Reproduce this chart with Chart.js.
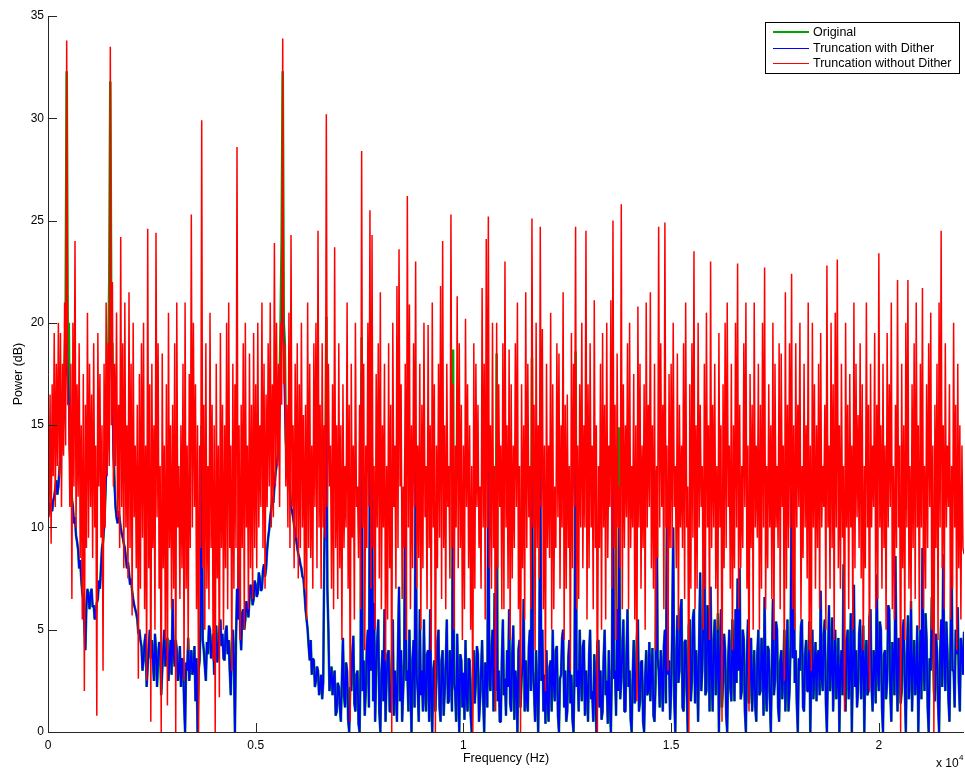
<!DOCTYPE html>
<html>
<head>
<meta charset="utf-8">
<title>Power spectrum</title>
<script src="https://cdn.jsdelivr.net/npm/chart.js@4/dist/chart.umd.min.js"></script>
<style>
  body { margin: 0; background: #fff; }
  #wrap { width: 965px; height: 768px; }
</style>
</head>
<body>
<div id="wrap"><canvas id="spectrumChart" width="965" height="768"></canvas></div>
<script>
// spectrum bins are 25 Hz apart, 0 .. 22050 Hz
const binHz = 25;
const seriesNames = ["Original", "Truncation with Dither", "Truncation without Dither"];
const xTickValues = [0, 5000, 10000, 15000, 20000];
const xTickLabels = ["0", "0.5", "1", "1.5", "2"];
const yTickValues = [0, 5, 10, 15, 20, 25, 30, 35];

const original = [
  11,10.6, 11.2,10.9, 10.8,11.3, 11.5,11.9, 12.3,11.6, 12,12.8, 13.4,13.9, 14.5,15.3, 18,20, 32.3,19,
  20,13.8, 12.5,11.4, 11,10.2, 10.5,9.6, 9.3,8.9, 8,8.4, 7.5,6.8, 6.5,5.2, 4,6.2, 7,6.6,
  6,6.8, 7,6.1, 6.2,5.5, 5.8,6.3, 6.5,7.4, 7,8, 9,9.3, 10,11.2, 13,14, 18,22,
  31.8,19, 19,14, 12.5,11, 10.5,10.2, 10.8,10.4, 10,9.7, 9.5,9.2, 9,8.5, 8,8.3, 7.8,7.2,
  7.5,6.9, 6.5,6.2, 6,5.8, 5.5,4.8, 5,4.5, 4.2,3, 3.5,4.4, 4.8,2.2, 3.2,4.1, 5,3.6,
  4.5,3.5, 2.5,4.8, 4,2.2, 3.5,4.4, 4.2,1.8, 3,4, 5,3.2, 3.8,4.6, 2.5,3.6, 4.5,2.8,
  6.5,3.8, 3.2,4.5, 4,2.5, 3,4.2, 2.2,3.6, 3.5,1.5, 0,3.4, 3,4.6, 2.5,3.2, 4,2.8,
  3,4.2, 1.5,3.6, 0,3, 3.5,5.5, 15,4.5, 4,3.2, 2.5,4.4, 3.8,5.2, 5,3.6, 4,4.8,
  2.8,4.6, 5.2,3.4, 4,5, 5.5,4.2, 4.8,3.6, 3.5,4.9, 5.2,3.8, 4.5,3, 1.8,4.4, 5,3.5,
  0,4.5, 7,5.5, 12.3,5, 4,5.8, 6,5, 5.5,6.4, 6,5.6, 6.5,7.2, 7,6.2, 6.5,7.4,
  7.2,6.6, 6.8,7.8, 7.5,6.9, 7,7.9, 8.2,7.6, 8,8.9, 9.5,9.9, 10.5,10.9, 11.5,11.2, 12,12.6,
  13,13.4, 14.5,17, 20,24, 32.3,20, 19,14.2, 13.5,12.8, 12.5,11.8, 11,10.8, 10.5,10.1, 9.8,9.4,
  9,8.7, 8.5,8.2, 8,7.6, 7.5,6.8, 6,5.5, 5,4.2, 3.5,4.5, 2.8,3.6, 3.5,2.2, 2.5,3.2,
  3,1.8, 2.2,2.8, 1.6,2.4, 8.5,12, 20.3,7, 5,2, 2.5,3.2, 1.8,2.6, 3,0.8, 1,2.4,
  2.2,1.2, 0.5,2.6, 4.6,1.8, 1.2,3.4, 3,0.6, 0,2.2, 2,3.8, 4.7,1.4, 1,2.8, 3,0.4,
  0,3.2, 19.3,2, 3.5,0.8, 2,4.2, 5,1.2, 14.8,3, 13.4,1.5, 6.3,0.5, 3,4.5, 5.5,1,
  0,2.8, 4,1.5, 6,0.5, 2.5,3.8, 4,1, 1,3.5, 5.5,0.8, 3,2, 0.5,4.2, 7.1,1.5,
  4,0.5, 2,3.6, 13.5,2.5, 3,1, 5,2.2, 0,3.5, 4.5,1.2, 13.7,2.8, 2,0.5, 6,1.8,
  3,1, 5.5,2, 1,3.8, 4,0.5, 6,1.6, 0,3, 3.5,1, 2.5,4.4, 5,1.2, 0.5,3.5,
  4,0.8, 2,3.4, 5.5,1.4, 1.5,4, 3,1, 18.7,2.4, 2,0.5, 4.8,2.2, 0,3.8, 3.5,1.2,
  2.9,0.6, 4.5,1.8, 1,3.6, 3.5,0.8, 0,2.6, 4,1.4, 2.5,4.2, 3.8,0.5, 1.5,3, 4.5,1.6,
  0,3.4, 3,1.2, 13.5,2.6, 2,4, 5,1, 6.8,2, 18.5,1.5, 3,0.5, 0.5,3.6, 5.5,1.8,
  2.6,0.8, 4,2.2, 6,1.4, 1,3.8, 5.2,0.6, 3,2.4, 0,4, 4.5,1.2, 2.6,3.2, 6.5,1,
  3.5,1.6, 1,4.2, 5,2, 18.3,3, 2,0.5, 4,1.8, 0,3.4, 13.5,2.5, 5,1, 2.8,0.4,
  4,1.5, 0.5,3.2, 3.5,1, 5,2.4, 1.5,4, 4.2,0.8, 0,2.6, 2.8,4.6, 5,1.2, 3,0.5,
  1,3.6, 4.5,1.4, 2.8,0.6, 0,3, 18.6,2.2, 3,1, 5,2.8, 1.5,4.2, 4.5,0.8, 3,2,
  0.5,3.8, 5,1.6, 2,0.5, 3.8,2.2, 0,4.4, 4.5,1.2, 3,0.6, 1,3.6, 5,1.8, 2.5,0.4,
  4,1.4, 0,3.2, 13.5,2.6, 3,0.8, 6,2, 14.9,1.6, 2.5,4, 5.5,1, 1,3.8, 6,2.2,
  3,0.6, 0,2.8, 4.5,1.4, 2,4.6, 5.5,1, 1.5,3.4, 3.5,0.5, 0,2.6, 4,1.8, 2,4.4,
  1.5,3, 4.1,0.8, 0.5,2.4, 12.8,3.6, 3,1.2, 4,2.6, 1,4.2, 5,1.4, 11.9,2.8, 3.5,0.6,
  2,4.8, 10,1.6, 0,3.6, 5.7,2.4, 3,6, 6.5,1.2, 1,4.4, 4.5,2, 0,5.2, 5.5,1.5,
  2.5,5.6, 6,1.4, 4,2.8, 0.5,4.6, 7.8,2, 3,5.4, 12.3,1.8, 2,6.2, 5,1, 7.1,3,
  1,4.4, 5.5,1.8, 3,5.8, 0,3.4, 6,1.2, 2.5,4.8, 4,0.8, 0,3.6, 5,2.2, 1.5,5.5,
  3.5,1.5, 6,2.4, 7.5,3, 8,1.6, 2,5, 4.5,1, 0,3.8, 5.5,1.4, 3,4.6, 1,2.6,
  4,1.2, 0.5,3.8, 5,1.8, 2,4.6, 3.5,0.8, 6.6,2.2, 1,4.2, 4,1.6, 0,3.2, 6.5,1.8,
  2.5,5.4, 5,1.2, 0.5,3.4, 4,1.6, 3,5, 1,3.2, 5.5,1, 2,4.2, 11.9,3.6, 11,2.4,
  4,1.4, 0,3.6, 3,5.2, 5.5,1.2, 1,3.8, 4.5,2, 2,5.4, 0,3, 5,1.6, 3,4.4,
  1.5,3.8, 4,1.8, 6.9,2.6, 2,4.8, 5.5,1.4, 0,3.2, 6.2,2, 3,5.6, 1,3.4, 5,1.6,
  2.5,4.6, 0,3, 4,1.8, 8.2,2.4, 1,4.4, 5,1.6, 3,5.8, 0,3.2, 7.2,2.2, 4,1.2,
  2,4.8, 5.5,1.6, 3.3,5.2, 0,3.4, 4.5,1.8, 2,5.6, 6,2.2, 1,4, 3.5,1.4, 7.7,3,
  2,5.4, 5,1.2, 0,3.8, 4,1.6, 2.5,6.2, 6,2, 0.5,4.4, 3.5,1.8, 8.6,3.4, 1,4.6,
  4,1.4, 2,5, 5.5,2.2, 0,3.6, 5.7,1.6, 3,6.4, 1,3.2, 4.5,1.8, 2.5,5.2, 0,2.8,
  5,1.6, 9,3.4, 2,5.8, 4.5,1.2, 0,3.6, 3,6.6, 6,2, 1.5,4.8, 4,1.4, 0,3.8,
  5.5,2.2, 8.7,3.6, 2,5.4, 4,1.6, 0.5,4.2, 8.7,3, 3,1.2, 5,3.8, 6.1,2.4, 1,4.6,
  4,2.8, 4.9
];

const withDither = [
  11,10.6, 11.2,10.9, 10.8,11.3, 11.5,11.9, 12.3,11.6, 12,12.8, 13.4,13.9, 14.5,15.3, 16,17.2, 19,17.5,
  16,13.8, 12.5,11.4, 11,10.2, 10.5,9.6, 9.3,8.9, 8,8.4, 7.5,6.8, 6.5,5.2, 4,6.2, 7,6.6,
  6,6.8, 7,6.1, 6.2,5.5, 5.8,6.3, 6.5,7.4, 7,8, 9,9.3, 10,11.2, 12.5,13.6, 15,17.5,
  21,18, 16,13.5, 12,11, 10.5,10.2, 10.8,10.4, 10,9.7, 9.5,9.2, 9,8.5, 8,8.3, 7.8,7.2,
  7.5,6.9, 6.5,6.2, 6,5.8, 5.5,4.8, 5,4.5, 4.2,3, 3.5,4.4, 4.8,2.2, 3.2,4.1, 5,3.6,
  4.5,3.5, 2.5,4.8, 4,2.2, 3.5,4.4, 4.2,1.8, 3,4, 5,3.2, 3.8,4.6, 2.5,3.6, 4.5,2.8,
  6.5,3.8, 3.2,4.5, 4,2.5, 3,4.2, 2.2,3.6, 3.5,1.5, 0,3.4, 3,4.6, 2.5,3.2, 4,2.8,
  3,4.2, 1.5,3.6, 0,3, 3.5,5.5, 15,4.5, 4,3.2, 2.5,4.4, 3.8,5.2, 5,3.6, 4,4.8,
  2.8,4.6, 5.2,3.4, 4,5, 5.5,4.2, 4.8,3.6, 3.5,4.9, 5.2,3.8, 4.5,3, 1.8,4.4, 5,3.5,
  0,4.5, 7,5.5, 12.3,5, 4,5.8, 6,5, 5.5,6.4, 6,5.6, 6.5,7.2, 7,6.2, 6.5,7.4,
  7.2,6.6, 6.8,7.8, 7.5,6.9, 7,7.9, 8.2,7.6, 8,8.9, 9.5,9.9, 10.5,10.9, 11.5,11.2, 12,12.6,
  13,13.4, 14,15.5, 17.5,19.5, 22,18.5, 16,14.2, 13,12.8, 12.5,11.8, 11,10.8, 10.5,10.1, 9.8,9.4,
  9,8.7, 8.5,8.2, 8,7.6, 7.5,6.8, 6,5.5, 5,4.2, 3.5,4.5, 2.8,3.6, 3.5,2.2, 2.5,3.2,
  3,1.8, 2.2,2.8, 1.6,2.4, 8.5,12, 15.9,7, 5,2, 2.5,3.2, 1.8,2.6, 3,0.8, 1,2.4,
  2.2,1.2, 0.5,2.6, 4.6,1.8, 1.2,3.4, 3,0.6, 0,2.2, 2,3.8, 4.7,1.4, 1,2.8, 3,0.4,
  0,3.2, 17.6,2, 3.5,0.8, 2,4.2, 5,1.2, 14.8,3, 13.4,1.5, 6.3,0.5, 3,4.5, 5.5,1,
  0,2.8, 4,1.5, 6,0.5, 2.5,3.8, 4,1, 1,3.5, 5.5,0.8, 3,2, 0.5,4.2, 7.1,1.5,
  4,0.5, 2,3.6, 13.5,2.5, 3,1, 5,2.2, 0,3.5, 4.5,1.2, 13.7,2.8, 2,0.5, 6,1.8,
  3,1, 5.5,2, 1,3.8, 4,0.5, 6,1.6, 0,3, 3.5,1, 2.5,4.4, 5,1.2, 0.5,3.5,
  4,0.8, 2,3.4, 5.5,1.4, 1.5,4, 3,1, 12.7,2.4, 2,0.5, 4.8,2.2, 0,3.8, 3.5,1.2,
  2.9,0.6, 4.5,1.8, 1,3.6, 3.5,0.8, 0,2.6, 4,1.4, 2.5,4.2, 3.8,0.5, 1.5,3, 4.5,1.6,
  0,3.4, 3,1.2, 13.5,2.6, 2,4, 5,1, 6.8,2, 9,1.5, 3,0.5, 0.5,3.6, 5.5,1.8,
  2.6,0.8, 4,2.2, 6,1.4, 1,3.8, 5.2,0.6, 3,2.4, 0,4, 4.5,1.2, 2.6,3.2, 6.5,1,
  3.5,1.6, 1,4.2, 5,2, 12.5,3, 2,0.5, 4,1.8, 0,3.4, 13.5,2.5, 5,1, 2.8,0.4,
  4,1.5, 0.5,3.2, 3.5,1, 5,2.4, 1.5,4, 4.2,0.8, 0,2.6, 2.8,4.6, 5,1.2, 3,0.5,
  1,3.6, 4.5,1.4, 2.8,0.6, 0,3, 14,2.2, 3,1, 5,2.8, 1.5,4.2, 4.5,0.8, 3,2,
  0.5,3.8, 5,1.6, 2,0.5, 3.8,2.2, 0,4.4, 4.5,1.2, 3,0.6, 1,3.6, 5,1.8, 2.5,0.4,
  4,1.4, 0,3.2, 13.5,2.6, 3,0.8, 6,2, 10,1.6, 2.5,4, 5.5,1, 1,3.8, 6,2.2,
  3,0.6, 0,2.8, 4.5,1.4, 2,4.6, 5.5,1, 1.5,3.4, 3.5,0.5, 0,2.6, 4,1.8, 2,4.4,
  1.5,3, 4.1,0.8, 0.5,2.4, 12.8,3.6, 3,1.2, 4,2.6, 1,4.2, 5,1.4, 11.9,2.8, 3.5,0.6,
  2,4.8, 10,1.6, 0,3.6, 5.7,2.4, 3,6, 6.5,1.2, 1,4.4, 4.5,2, 0,5.2, 5.5,1.5,
  2.5,5.6, 6,1.4, 4,2.8, 0.5,4.6, 7.8,2, 3,5.4, 10,1.8, 2,6.2, 5,1, 7.1,3,
  1,4.4, 5.5,1.8, 3,5.8, 0,3.4, 6,1.2, 2.5,4.8, 4,0.8, 0,3.6, 5,2.2, 1.5,5.5,
  3.5,1.5, 6,2.4, 7.5,3, 8,1.6, 2,5, 4.5,1, 0,3.8, 5.5,1.4, 3,4.6, 1,2.6,
  4,1.2, 0.5,3.8, 5,1.8, 2,4.6, 3.5,0.8, 6.6,2.2, 1,4.2, 4,1.6, 0,3.2, 6.5,1.8,
  2.5,5.4, 5,1.2, 0.5,3.4, 4,1.6, 3,5, 1,3.2, 5.5,1, 2,4.2, 11.9,3.6, 11,2.4,
  4,1.4, 0,3.6, 3,5.2, 5.5,1.2, 1,3.8, 4.5,2, 2,5.4, 0,3, 5,1.6, 3,4.4,
  1.5,3.8, 4,1.8, 6.9,2.6, 2,4.8, 5.5,1.4, 0,3.2, 6.2,2, 3,5.6, 1,3.4, 5,1.6,
  2.5,4.6, 0,3, 4,1.8, 8.2,2.4, 1,4.4, 5,1.6, 3,5.8, 0,3.2, 7.2,2.2, 4,1.2,
  2,4.8, 5.5,1.6, 3.3,5.2, 0,3.4, 4.5,1.8, 2,5.6, 6,2.2, 1,4, 3.5,1.4, 7.7,3,
  2,5.4, 5,1.2, 0,3.8, 4,1.6, 2.5,6.2, 6,2, 0.5,4.4, 3.5,1.8, 8.6,3.4, 1,4.6,
  4,1.4, 2,5, 5.5,2.2, 0,3.6, 5.7,1.6, 3,6.4, 1,3.2, 4.5,1.8, 2.5,5.2, 0,2.8,
  5,1.6, 9,3.4, 2,5.8, 4.5,1.2, 0,3.6, 3,6.6, 6,2, 1.5,4.8, 4,1.4, 0,3.8,
  5.5,2.2, 8.7,3.6, 2,5.4, 4,1.6, 0.5,4.2, 8.7,3, 3,1.2, 5,3.8, 6.1,2.4, 1,4.6,
  4,2.8, 4.9
];

const withoutDither = [
  15.5,10.5, 16.5,9.2, 17,12.5, 19.5,11, 18,13, 20,12.5, 19.5,11, 18,13.5, 21,14, 33.8,16,
  16,11, 18,6.5, 20,12, 24,10, 17,11.5, 19,8.5, 15,5.5, 17.5,2, 16,9, 20.5,9.5,
  18,11, 16.5,8.5, 19,10, 14,0.8, 19.5,12, 17.5,9.5, 15,3, 18,10, 21,12.5, 19,13,
  33.5,15, 22,12, 18,13, 20.5,10.5, 16,9, 24.2,11, 19,8, 21,10, 15,7.5, 21.5,9,
  18,5.7, 20,10.5, 14,8, 16,2.6, 17.5,7, 19,9.5, 20,6, 14,2.5, 24.6,8, 17,0.5,
  18,9, 15,5, 24.4,10.5, 19,7, 13,0, 18.5,8, 14,4.5, 17,1.3, 20.5,9, 15,6,
  16,7, 19,0, 21,10, 13,6.5, 15,8, 18,2.5, 21,7, 14,4, 17.5,9, 25.3,10,
  20,11, 17,6, 15,0, 14,9, 29.9,8, 16,5, 19,7, 13,6, 20.5,9, 16,3.5,
  15,0, 18,7.5, 14,1.7, 19.5,9, 16,5, 15,8, 20,6, 21,9, 14,3, 18,7,
  17,9, 28.6,7, 15,4.5, 16,9, 19,5, 20,10, 14,6, 18.5,8, 16,6.5, 19.5,9,
  17,8, 20,10, 15,11, 21,9, 18,7, 16.5,11, 19,12, 21,10, 17,10.5, 23.9,12,
  20,13, 18,11, 20,16, 33.9,17, 19,12, 16,10, 20.5,9, 24.3,11, 15,8, 18,9.5,
  19,7.5, 17,9, 20,10, 15.5,7, 16,5.5, 21,9, 18,8.5, 14,7, 19,11, 20,8,
  24.5,10, 16,7, 19,10, 15,9.5, 30.2,11, 18,12, 14,7, 17,6, 23.7,9, 15,6.5,
  19,8, 15,4.5, 17,9, 13,10, 21,7, 16,0.5, 18,9.5, 14,5.5, 20,11, 12,8.5,
  16,6, 28.4,10, 18,4, 14,9, 20,11, 25.5,7, 24.3,9, 13,5, 17.5,10, 19,7.5,
  21.5,6, 15,10, 18,3.5, 13,5.5, 19,8, 16,0, 20,11, 14,7, 21.8,9, 23.6,12,
  17,6.5, 12,9, 18,4.5, 26.2,10, 20.9,6, 15,8, 19,11, 23,7, 14,8.5, 18,5,
  16,8, 20,10.5, 13,6, 19.9,9, 15,4, 21,10, 17,0, 14,8, 18,9.5, 21.8,6.5,
  24,9, 15,6, 18,11, 13,7.5, 25.3,9, 17,5, 14,10, 21.3,8, 19,9, 16,4.5,
  14,6, 20.2,11, 17,8, 15,5, 13,0, 19,7, 18,11, 16,9, 12,7, 21.7,10,
  18,5.5, 24.1,10, 25.2,8, 15,7, 20,9, 13,1, 20,8, 17,11, 14,6, 19,6,
  23,10, 15,7, 18.7,4.5, 17,7.5, 14,9, 19,11, 21,6, 13,0, 17,8, 15,5.5,
  21.5,9, 18,10.5, 13,6, 25.1,10, 16,4, 20,9, 15,7.5, 24.7,11, 19.7,6, 14,2,
  18,9, 14,8.5, 20.5,5, 17,6, 12,9, 19,10.5, 18.5,7, 15,10, 21.5,4.5, 16,7,
  16.5,9, 13,3, 19.5,8, 18,11, 24.7,6, 14,6.5, 17,10, 20,8, 15,10, 24.5,5.5,
  17,8, 19,10, 14,6, 21.1,9, 15,0, 13,9, 18,5, 19.5,10, 16,5.5, 20,8.5,
  14,11, 21.1,7, 25,9, 16,4.5, 18.5,10, 12,8, 25.8,6, 17,9, 15,10.5, 19,6,
  20,9, 13,10, 17.5,5.5, 15,1.5, 20.8,10, 18,7, 14,9, 17,5, 21,10, 16,11,
  21.5,8, 15,7, 18,4, 13,8.5, 24.7,10, 19,11, 16,6, 24.9,10, 14,3, 17.5,9,
  18,9, 20,11, 13,8, 18.5,5, 16,10, 14,9, 19,6.5, 21,10, 12,0, 17,7,
  19,9.5, 23.5,6, 15,7, 20,10, 16,11, 13,5, 18,7, 20.5,10, 15,4.5, 23,9,
  16,10, 18,7, 13,5, 19.5,10, 15,0.5, 17,8, 20,9, 21,11, 14,7, 18,4,
  15,8, 20,10, 22.9,6, 16,8, 13,9, 19,11, 21,7, 14,1, 17.5,9, 16,5,
  21,10, 14,9.5, 18,5, 16,7, 20,10, 22.7,6, 13,8, 17,10, 15,6.5, 20,4.5,
  18,10, 13,9, 19,6, 18.5,11, 14,2.5, 21.5,7, 16,9, 19,10, 22.4,6, 15,5,
  19,10, 16,11, 20,5.5, 13,8.5, 18,10, 15,7.5, 21,4, 14,3, 20,10, 17,7,
  15,9, 18,6, 19.5,10, 13,11, 16,5, 22.8,10, 14,7, 20,9, 17,4.5, 20.5,10,
  23.1,8, 15,7, 18,9.5, 13,1, 20,10, 16,6, 17.5,10, 14,5, 21,8, 18,10.5,
  15.5,9, 19,7.5, 17,4, 13,8, 21,10, 16,2, 18,10, 14,11, 19.5,6, 16,6.5,
  23.4,10, 15,7, 18,9, 14,5, 19.5,10, 17,11, 21,6, 13,5.5, 16,9, 22.1,10,
  14,0, 18,8, 15,4.5, 20,10, 22.1,7, 13,6, 17,9, 19,6.5, 21,10, 15,5,
  18,10, 21.7,6, 13,7, 17,9, 19,11, 20.5,5, 14,0, 16,9, 18,4.5, 21,10,
  24.5,8, 15,6, 19,10, 14,11, 17,5.5, 13,7, 20,10, 16,4, 18,8, 15,5.5,
  14,9, 8.7
];

const fontFamily = '"Liberation Sans", Arial, Helvetica, sans-serif';
const lineColors = ["#00a400", "#0000ff", "#ff0000"];
const lineWidths = [2.6, 1.8, 1.5];

function toPoints(values) {
  return values.map((v, i) => ({ x: i * binHz, y: v }));
}

// axes with inward ticks, the legend box and the x10^4 multiplier, drawn like the original figure
const figureDecor = {
  id: "figureDecor",
  afterDraw(chart) {
    const { ctx, chartArea: area, scales } = chart;
    ctx.save();

    ctx.strokeStyle = "#262626";
    ctx.lineWidth = 1;
    ctx.beginPath();
    ctx.moveTo(area.left + 0.5, area.top);
    ctx.lineTo(area.left + 0.5, area.bottom + 0.5);
    ctx.lineTo(area.right, area.bottom + 0.5);
    yTickValues.forEach(v => {
      const py = Math.round(scales.y.getPixelForValue(v)) + 0.5;
      ctx.moveTo(area.left, py);
      ctx.lineTo(area.left + 9, py);
    });
    xTickValues.forEach(v => {
      const px = Math.round(scales.x.getPixelForValue(v)) + 0.5;
      ctx.moveTo(px, area.bottom);
      ctx.lineTo(px, area.bottom - 9);
    });
    ctx.stroke();

    ctx.fillStyle = "#000";
    ctx.textBaseline = "alphabetic";
    ctx.font = "12px " + fontFamily;
    ctx.fillText("x 10", 936, 767);
    ctx.font = "8px " + fontFamily;
    ctx.fillText("4", 959, 760);

    // legend
    const boxLeft = Math.round(area.right) - 199, boxTop = Math.round(area.top) + 6, boxW = 194, boxH = 51;
    ctx.fillStyle = "#fff";
    ctx.fillRect(boxLeft, boxTop, boxW, boxH);
    ctx.strokeStyle = "#000";
    ctx.lineWidth = 1;
    ctx.strokeRect(boxLeft + 0.5, boxTop + 0.5, boxW, boxH);
    ctx.font = "12.5px " + fontFamily;
    ctx.textBaseline = "middle";
    const rowOffsets = [10, 26, 41];
    seriesNames.forEach((name, i) => {
      const rowY = boxTop + rowOffsets[i];
      ctx.strokeStyle = lineColors[i];
      ctx.lineWidth = i === 0 ? 2 : 1;
      const lineY = i === 0 ? rowY : rowY + 0.5;
      ctx.beginPath();
      ctx.moveTo(boxLeft + 8, lineY);
      ctx.lineTo(boxLeft + 44, lineY);
      ctx.stroke();
      ctx.fillStyle = "#000";
      ctx.fillText(name, boxLeft + 48, rowY + 1);
    });

    ctx.restore();
  }
};

const tickFont = { family: fontFamily, size: 12 };
const titleFont = { family: fontFamily, size: 12.5 };

new Chart(document.getElementById("spectrumChart"), {
  type: "line",
  data: {
    // red first so it is painted on top, as in the original figure
    datasets: [
      { label: seriesNames[2], data: toPoints(withoutDither), borderColor: lineColors[2], borderWidth: lineWidths[2] },
      { label: seriesNames[1], data: toPoints(withDither), borderColor: lineColors[1], borderWidth: lineWidths[1] },
      { label: seriesNames[0], data: toPoints(original), borderColor: lineColors[0], borderWidth: lineWidths[0] }
    ]
  },
  options: {
    responsive: false,
    animation: false,
    devicePixelRatio: 1,
    layout: { padding: { top: 16, right: 1, left: 0, bottom: 0 } },
    elements: {
      point: { radius: 0 },
      line: { tension: 0, borderJoinStyle: "bevel", fill: false }
    },
    plugins: {
      legend: { display: false },
      tooltip: { enabled: false }
    },
    scales: {
      x: {
        type: "linear",
        min: 0,
        max: 22050,
        grid: { display: false, drawTicks: false },
        border: { display: false },
        afterBuildTicks: scale => { scale.ticks = xTickValues.map(v => ({ value: v })); },
        afterFit: scale => { scale.height = 36; },
        ticks: {
          padding: 6,
          maxRotation: 0,
          autoSkip: false,
          color: "#000",
          font: tickFont,
          callback: (value, index) => xTickLabels[index]
        },
        title: {
          display: true,
          text: "Frequency (Hz)",
          color: "#000",
          font: titleFont,
          padding: { top: 0, bottom: 2 }
        }
      },
      y: {
        min: 0,
        max: 35,
        grid: { display: false, drawTicks: false },
        border: { display: false },
        afterBuildTicks: scale => { scale.ticks = yTickValues.map(v => ({ value: v })); },
        afterFit: scale => { scale.width = 48; },
        ticks: {
          padding: 4,
          color: "#000",
          font: tickFont
        },
        title: {
          display: true,
          text: "Power (dB)",
          color: "#000",
          font: titleFont,
          padding: { top: 11, bottom: 0 }
        }
      }
    }
  },
  plugins: [figureDecor]
});
</script>
</body>
</html>
